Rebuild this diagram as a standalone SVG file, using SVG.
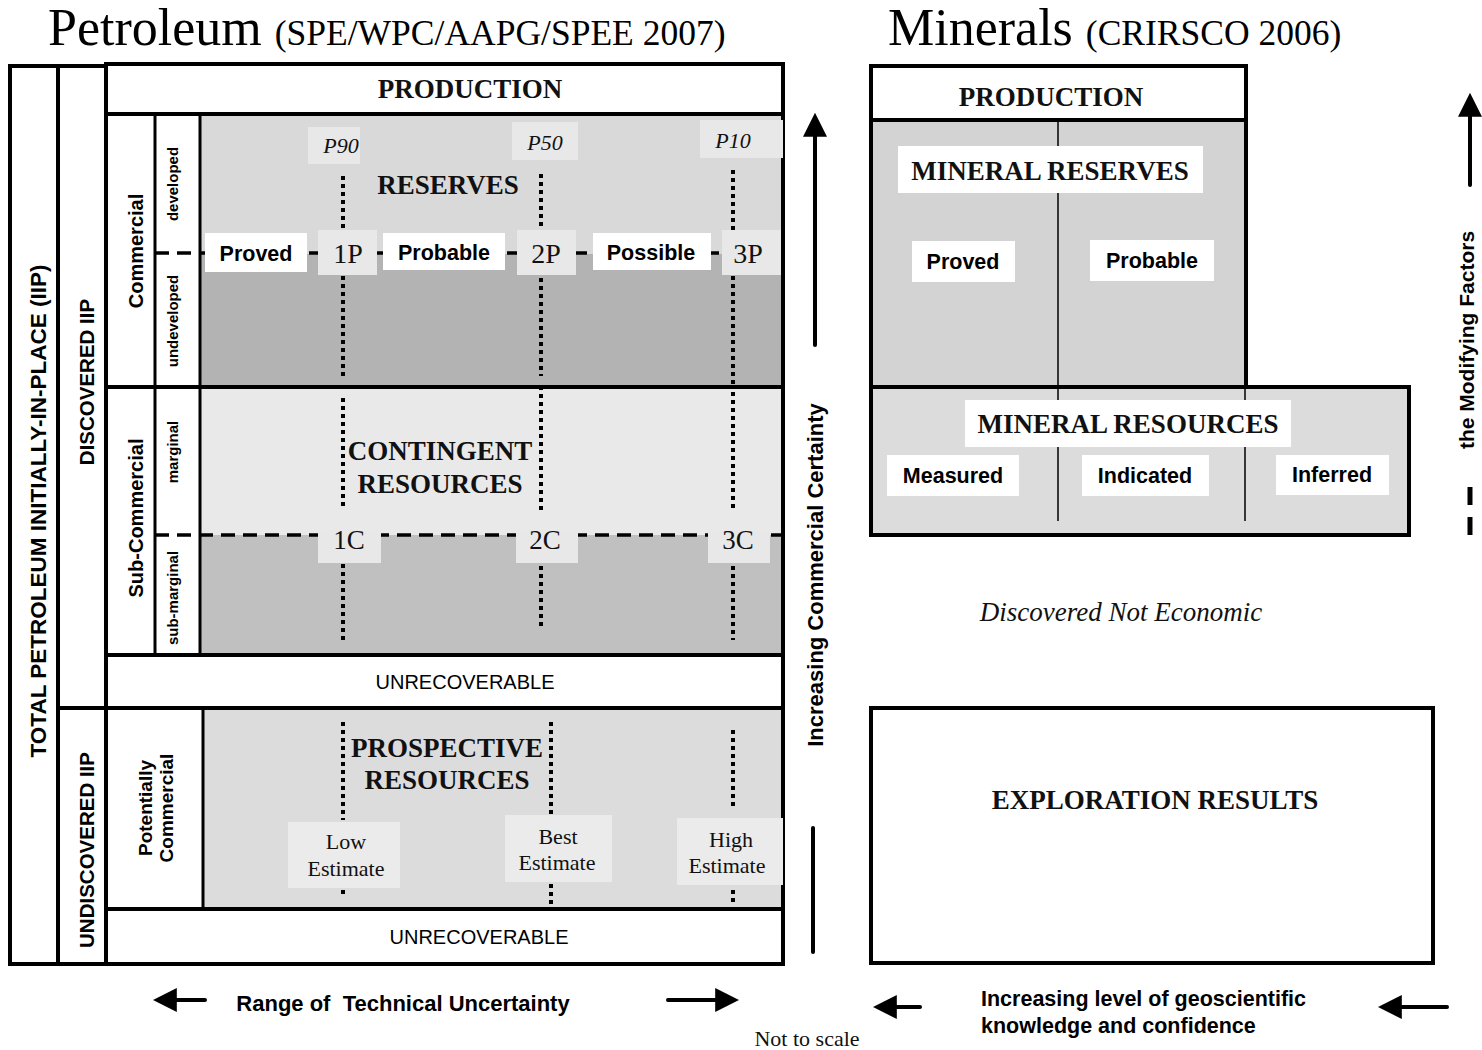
<svg xmlns="http://www.w3.org/2000/svg" width="1482" height="1050" viewBox="0 0 1482 1050">
<defs>
<style>
.box{fill:#fff;stroke:#000;stroke-width:4}
.thin{stroke:#000;stroke-width:1.5;fill:none}
.dash{stroke:#000;stroke-width:3.5;stroke-dasharray:14 8;fill:none}
.dot{stroke:#000;stroke-width:4;stroke-dasharray:4 4;fill:none}
.ttl{font-family:"Liberation Serif",serif;fill:#000}
.tb{font-family:"Liberation Serif",serif;font-weight:bold;font-size:27px;fill:#111;text-anchor:middle}
.tr{font-family:"Liberation Serif",serif;fill:#111;text-anchor:middle}
.ab{font-family:"Liberation Sans",Arial,sans-serif;font-weight:bold;fill:#000;text-anchor:middle}
.as{font-family:"Liberation Sans",Arial,sans-serif;font-weight:bold;fill:#000;text-anchor:start}
.an{font-family:"Liberation Sans",Arial,sans-serif;font-size:20px;fill:#000;text-anchor:middle}
.wl{fill:#fff}
.gl{fill:#e8e8e8}
.arr{stroke:#000;stroke-width:4;stroke-linecap:round;fill:none}
</style>
<marker id="ah" viewBox="0 0 10 10" refX="2" refY="5" markerWidth="6" markerHeight="6" orient="auto" markerUnits="strokeWidth">
<path d="M0,0 L10,5 L0,10 z" fill="#000"/>
</marker>
</defs>
<rect width="1482" height="1050" fill="#fff"/>

<!-- Titles -->
<g id="title-petroleum">
<text x="48" y="45" class="ttl" font-size="52">Petroleum <tspan font-size="35.5">(SPE/WPC/AAPG/SPEE 2007)</tspan></text>
</g>
<g id="title-minerals">
<text x="888" y="45" class="ttl" font-size="52">Minerals <tspan font-size="35.5">(CRIRSCO 2006)</tspan></text>
</g>

<!-- Left column structure -->
<g id="total-iip">
<rect x="10" y="66" width="48" height="898" class="box"/>
<text class="ab" font-size="22.5" transform="translate(46,511) rotate(-90)">TOTAL PETROLEUM INITIALLY-IN-PLACE (IIP)</text>
</g>
<g id="discovered-iip">
<rect x="58" y="66" width="48" height="642" class="box"/>
<text class="ab" font-size="20.5" transform="translate(94,382) rotate(-90)">DISCOVERED IIP</text>
</g>
<g id="undiscovered-iip">
<rect x="58" y="708" width="48" height="256" class="box"/>
<text class="ab" font-size="20.5" transform="translate(94,850) rotate(-90)">UNDISCOVERED IIP</text>
</g>

<g id="production">
<rect x="106" y="64" width="677" height="50" class="box"/>
<text x="470" y="98" class="tb">PRODUCTION</text>
</g>

<!-- Reserves -->
<g id="reserves">
<rect x="200" y="116" width="583" height="138" fill="#d9d9d9"/>
<rect x="200" y="254" width="583" height="133" fill="#b3b3b3"/>
<rect x="106" y="114" width="677" height="273" fill="none" stroke="#000" stroke-width="4"/>
<line x1="155" y1="114" x2="155" y2="387" stroke="#000" stroke-width="3"/>
<line x1="200" y1="114" x2="200" y2="387" stroke="#000" stroke-width="3"/>
<line x1="155" y1="253" x2="783" y2="253" class="dash"/>
<text class="ab" font-size="20" transform="translate(143,251) rotate(-90)">Commercial</text>
<text class="ab" font-size="15" transform="translate(178,184) rotate(-90)">developed</text>
<text class="ab" font-size="15" transform="translate(178,321) rotate(-90)">undeveloped</text>
<path d="M343,176V232M343,276V376M541,174V230M541,278V376M733,170V232M733,276V386" class="dot"/>
<rect x="308" y="127" width="52" height="37" class="gl"/>
<text x="341" y="153" class="tr" font-style="italic" font-size="22">P90</text>
<rect x="512" y="122" width="66" height="38" class="gl"/>
<text x="545" y="150" class="tr" font-style="italic" font-size="22">P50</text>
<rect x="700" y="120" width="83" height="38" class="gl"/>
<text x="733" y="148" class="tr" font-style="italic" font-size="22">P10</text>
<text x="448" y="194" class="tb">RESERVES</text>
<rect x="205" y="233" width="102" height="39" class="wl"/>
<text x="256" y="261" class="ab" font-size="21.5">Proved</text>
<rect x="383" y="233" width="122" height="37" class="wl"/>
<text x="444" y="260" class="ab" font-size="21.5">Probable</text>
<rect x="593" y="233" width="118" height="37" class="wl"/>
<text x="651" y="260" class="ab" font-size="21.5">Possible</text>
<rect x="318" y="230" width="59" height="45" class="gl"/>
<text x="348" y="263" class="tr" font-size="28">1P</text>
<rect x="517" y="230" width="59" height="45" class="gl"/>
<text x="546" y="263" class="tr" font-size="28">2P</text>
<rect x="722" y="230" width="59" height="45" class="gl"/>
<text x="748" y="263" class="tr" font-size="28">3P</text>
</g>

<!-- Contingent -->
<g id="contingent">
<rect x="200" y="387" width="583" height="148" fill="#e9e9e9"/>
<rect x="200" y="535" width="583" height="120" fill="#c0c0c0"/>
<rect x="106" y="387" width="677" height="268" fill="none" stroke="#000" stroke-width="4"/>
<line x1="155" y1="387" x2="155" y2="655" stroke="#000" stroke-width="3"/>
<line x1="200" y1="387" x2="200" y2="655" stroke="#000" stroke-width="3"/>
<line x1="155" y1="535" x2="783" y2="535" class="dash"/>
<text class="ab" font-size="20" transform="translate(143,518) rotate(-90)">Sub-Commercial</text>
<text class="ab" font-size="15" transform="translate(178,452) rotate(-90)">marginal</text>
<text class="ab" font-size="15" transform="translate(178,598) rotate(-90)">sub-marginal</text>
<path d="M343,398V508M343,548V642M541,386V512M541,550V628M733,392V512M733,550V640" class="dot"/>
<text x="440" y="460" class="tb">CONTINGENT</text>
<text x="440" y="493" class="tb">RESOURCES</text>
<rect x="318" y="530" width="63" height="33" class="gl"/>
<text x="349" y="549" class="tr" font-size="27">1C</text>
<rect x="516" y="530" width="62" height="33" class="gl"/>
<text x="545" y="549" class="tr" font-size="27">2C</text>
<rect x="708" y="530" width="62" height="33" class="gl"/>
<text x="738" y="549" class="tr" font-size="27">3C</text>
</g>

<g id="unrecoverable-1">
<rect x="106" y="655" width="677" height="53" class="box"/>
<text x="465" y="689" class="an">UNRECOVERABLE</text>
</g>

<!-- Prospective -->
<g id="prospective">
<rect x="203" y="708" width="580" height="201" fill="#dcdcdc"/>
<rect x="106" y="708" width="677" height="201" fill="none" stroke="#000" stroke-width="4"/>
<line x1="203" y1="708" x2="203" y2="909" stroke="#000" stroke-width="3"/>
<text class="ab" font-size="19" transform="translate(152,808) rotate(-90)">Potentially</text>
<text class="ab" font-size="19" transform="translate(173,808) rotate(-90)">Commercial</text>
<path d="M343,722V820M343,890V896M551,722V816M551,884V906M733,730V810M733,890V902" class="dot"/>
<text x="447" y="757" class="tb">PROSPECTIVE</text>
<text x="447" y="789" class="tb">RESOURCES</text>
<rect x="288" y="822" width="112" height="66" fill="#ebebeb"/>
<text x="346" y="849" class="tr" font-size="22">Low</text>
<text x="346" y="876" class="tr" font-size="22">Estimate</text>
<rect x="505" y="815" width="107" height="67" fill="#ebebeb"/>
<text x="558" y="844" class="tr" font-size="22">Best</text>
<text x="557" y="870" class="tr" font-size="22">Estimate</text>
<rect x="677" y="818" width="106" height="67" fill="#ebebeb"/>
<text x="731" y="847" class="tr" font-size="22">High</text>
<text x="727" y="873" class="tr" font-size="22">Estimate</text>
</g>

<g id="unrecoverable-2">
<rect x="106" y="909" width="677" height="55" class="box"/>
<text x="479" y="944" class="an">UNRECOVERABLE</text>
</g>

<!-- Minerals -->
<g id="min-production">
<rect x="871" y="66" width="375" height="54" class="box"/>
<text x="1051" y="106" class="tb">PRODUCTION</text>
</g>
<g id="mineral-reserves">
<rect x="871" y="120" width="375" height="267" fill="#d3d3d3" stroke="#000" stroke-width="4"/>
<line x1="1058" y1="120" x2="1058" y2="387" class="thin"/>
<rect x="898" y="146" width="305" height="47" class="wl"/>
<text x="1050" y="180" class="tb">MINERAL RESERVES</text>
<rect x="912" y="241" width="103" height="41" class="wl"/>
<text x="963" y="269" class="ab" font-size="21.5">Proved</text>
<rect x="1090" y="240" width="124" height="41" class="wl"/>
<text x="1152" y="268" class="ab" font-size="21.5">Probable</text>
</g>
<g id="mineral-resources">
<rect x="871" y="387" width="538" height="148" fill="#dcdcdc" stroke="#000" stroke-width="4"/>
<line x1="1058" y1="389" x2="1058" y2="521" class="thin"/>
<line x1="1245" y1="389" x2="1245" y2="521" class="thin"/>
<rect x="965" y="400" width="326" height="47" class="wl"/>
<text x="1128" y="433" class="tb">MINERAL RESOURCES</text>
<rect x="887" y="455" width="132" height="41" class="wl"/>
<text x="953" y="483" class="ab" font-size="21.5">Measured</text>
<rect x="1082" y="455" width="127" height="41" class="wl"/>
<text x="1145" y="483" class="ab" font-size="21.5">Indicated</text>
<rect x="1276" y="455" width="113" height="40" class="wl"/>
<text x="1332" y="482" class="ab" font-size="21.5">Inferred</text>
</g>
<g id="discovered-not-economic">
<text x="1121" y="621" class="tr" font-style="italic" font-size="27">Discovered Not Economic</text>
</g>
<g id="exploration-results">
<rect x="871" y="708" width="562" height="255" class="box"/>
<text x="1155" y="809" class="tb">EXPLORATION RESULTS</text>
</g>

<!-- Axes and arrows -->
<g id="connectors">
<line x1="815" y1="345" x2="815" y2="132" class="arr" marker-end="url(#ah)"/>
<line x1="813" y1="828" x2="813" y2="952" class="arr"/>
<line x1="1470" y1="185" x2="1470" y2="112" class="arr" marker-end="url(#ah)"/>
<line x1="1470" y1="487" x2="1470" y2="505" stroke="#000" stroke-width="5"/>
<line x1="1470" y1="517" x2="1470" y2="535" stroke="#000" stroke-width="5"/>
<line x1="205" y1="1000" x2="172" y2="1000" class="arr" marker-end="url(#ah)"/>
<line x1="668" y1="1000" x2="720" y2="1000" class="arr" marker-end="url(#ah)"/>
<line x1="920" y1="1007" x2="892" y2="1007" class="arr" marker-end="url(#ah)"/>
<line x1="1447" y1="1007" x2="1397" y2="1007" class="arr" marker-end="url(#ah)"/>
</g>

<g id="axis-labels">
<text class="ab" font-size="22" transform="translate(823,575) rotate(-90)">Increasing Commercial Certainty</text>
<text class="ab" font-size="21" transform="translate(1474,340) rotate(-90)">the Modifying Factors</text>
<text x="403" y="1011" class="ab" font-size="22" xml:space="preserve">Range of  Technical Uncertainty</text>
<text x="807" y="1046" class="tr" font-size="22">Not to scale</text>
<text x="981" y="1006" class="as" font-size="21.5">Increasing level of geoscientific</text>
<text x="981" y="1033" class="as" font-size="21.5">knowledge and confidence</text>
</g>
</svg>
